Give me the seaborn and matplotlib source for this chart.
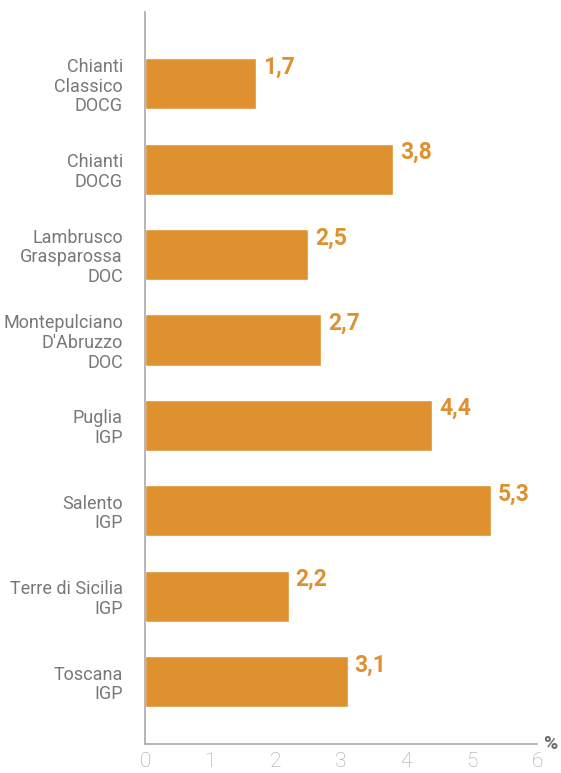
import numpy as np
import pandas as pd
import matplotlib
matplotlib.use("Agg")
import matplotlib.pyplot as plt
import seaborn as sns

# datos
categorias = ["Chianti\nClassico\nDOCG", "Chianti\nDOCG", "Lambrusco\nGrasparossa\nDOC",
              "Montepulciano\nD'Abruzzo\nDOC", "Puglia\nIGP", "Salento\nIGP",
              "Terre di Sicilia\nIGP", "Toscana\nIGP"]
valores = [1.7, 3.8, 2.5, 2.7, 4.4, 5.3, 2.2, 3.1]
ticks_x = [0, 1, 2, 3, 4, 5, 6]

naranja = "#E0912F"
gris_txt = "#77787B"
gris_eje = "#A7A9AC"

sns.set_style("white")
plt.rcParams['font.family'] = ['Roboto', 'DejaVu Sans']

df = pd.DataFrame({"cat": categorias, "val": valores})

fig = plt.figure(figsize=(5.61, 7.73), dpi=100)
ax = fig.add_axes([145 / 561, 1 - 744 / 773, (537 - 145) / 561, (744 - 12) / 773])

sns.barplot(data=df, y="cat", x="val", orient="h", color=naranja, saturation=1,
            width=0.6, ax=ax)

ax.set_xlim(0, 6)
ax.set_ylim(7.73, -0.84)
ax.set_xticks(ticks_x)
ax.set_xticklabels([str(t) for t in ticks_x])
ax.set_xlabel("")
ax.set_ylabel("")

for s in ["top", "right"]:
    ax.spines[s].set_visible(False)
for s in ["left", "bottom"]:
    ax.spines[s].set_color(gris_eje)
    ax.spines[s].set_linewidth(1.2)

ax.tick_params(axis="x", direction="inout", length=12, width=1.2, color=gris_eje,
               labelcolor="#A2A4A7", labelsize=15, pad=0)
ax.tick_params(axis="y", length=0, pad=16, labelcolor=gris_txt, labelsize=13)
for lab in ax.get_yticklabels():
    lab.set_linespacing(1.12)
for lab in ax.get_xticklabels():
    lab.set_fontweight("light")

# etiquetas de valores
for i, v in enumerate(valores):
    ax.text(v + 0.1, i - 0.33, f"{v:.1f}".replace(".", ","), color=naranja,
            fontsize=16.5, fontweight="bold", va="top", ha="left")

ax.text(6.1, 7.73, "%", color="#6D6E71", fontsize=14, fontweight="bold",
        va="center", ha="left", clip_on=False)

fig.savefig("out.png", dpi=100)
